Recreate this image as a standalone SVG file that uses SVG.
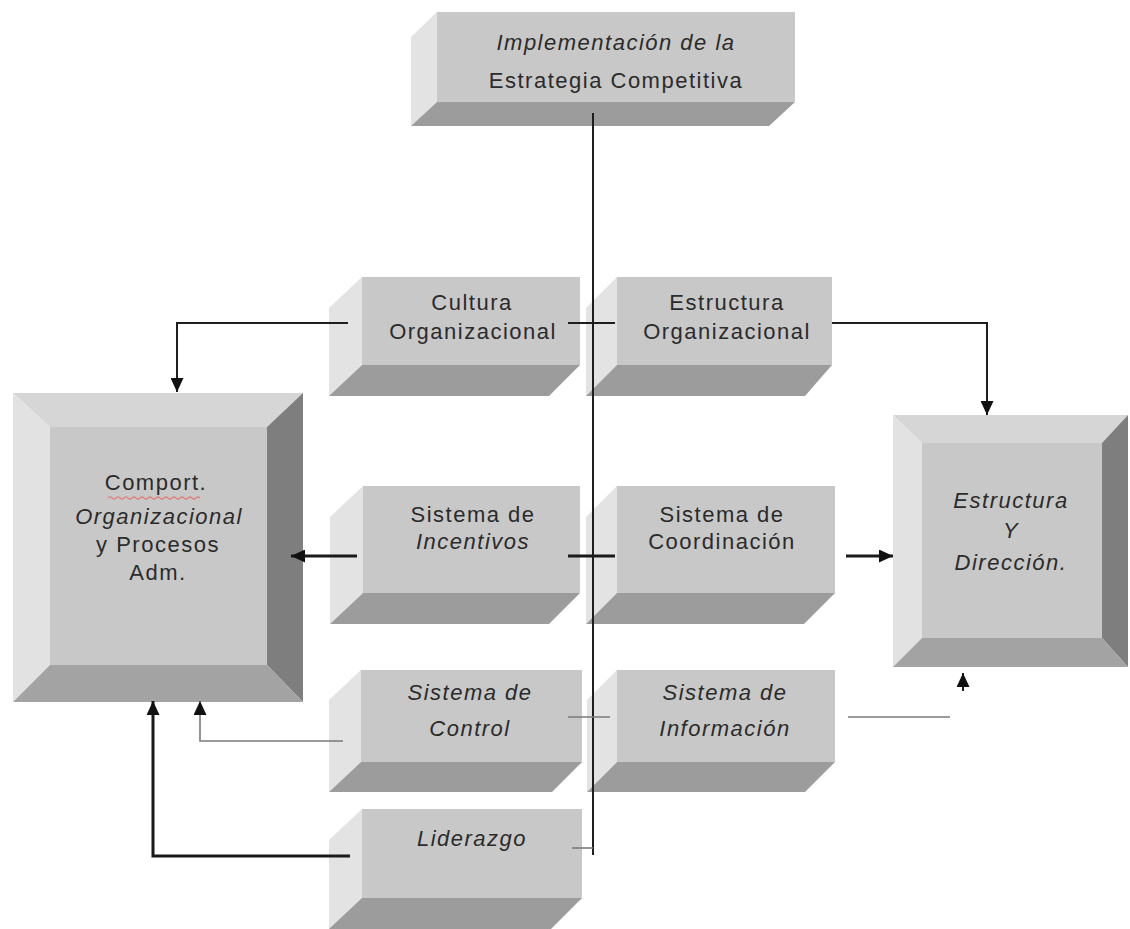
<svg xmlns="http://www.w3.org/2000/svg" width="1130" height="929" viewBox="0 0 1130 929">
  <style>
    .front { fill: #c8c8c8; }
    .side { fill: #e3e3e3; }
    .under { fill: #9c9c9c; }
    .bev-top { fill: #d6d6d6; }
    .bev-left { fill: #e2e2e2; }
    .bev-right { fill: #7e7e7e; }
    .bev-bottom { fill: #a3a3a3; }
    .label { font-family: "Liberation Sans", Arial, sans-serif; font-size: 22px; fill: #2b2b2b; text-anchor: middle; letter-spacing: 1.5px; }
    .it { font-style: italic; }
    .dark { fill: none; stroke: #1e1e1e; stroke-width: 2; }
    .heavy { fill: none; stroke: #1a1a1a; stroke-width: 3; }
    .grey { fill: none; stroke: #7a7a7a; stroke-width: 1.6; }
  </style>
  <defs>
    <marker id="arrow" markerUnits="userSpaceOnUse" markerWidth="14" markerHeight="13" refX="14" refY="6.5" orient="auto">
      <path d="M0,0 L14,6.5 L0,13 z" fill="#111"/>
    </marker>
  </defs>
  <rect width="1130" height="929" fill="#ffffff"/>

  <!-- top block -->
  <g id="implementacion">
    <polygon class="side" points="437,12 411,37 411,126 437,102"/>
    <polygon class="under" points="437,102 795,102 769,126 411,126"/>
    <rect class="front" x="437" y="12" width="358" height="90"/>
    <text class="label it" x="616" y="50">Implementación de la</text>
    <text class="label" x="616" y="88">Estrategia Competitiva</text>
  </g>

  <!-- left large bevelled block -->
  <g id="comportamiento">
    <polygon class="bev-top" points="13,393 303,393 267,427 50,427"/>
    <polygon class="bev-left" points="13,393 50,427 50,665 13,702"/>
    <polygon class="bev-right" points="303,393 303,702 267,665 267,427"/>
    <polygon class="bev-bottom" points="13,702 50,665 267,665 303,702"/>
    <rect class="front" x="50" y="427" width="217" height="238"/>
    <text class="label" x="156" y="490">Comport.</text>
    <path d="M108,498 q2,-2 4,0 t4,0 t4,0 t4,0 t4,0 t4,0 t4,0 t4,0 t4,0 t4,0 t4,0 t4,0 t4,0 t4,0 t4,0 t4,0 t4,0 t4,0 t4,0 t4,0 t4,0 t4,0 t4,0" fill="none" stroke="#e07070" stroke-width="1.2" opacity="0.8"/>
    <text class="label it" x="159" y="524">Organizacional</text>
    <text class="label" x="158" y="552">y Procesos</text>
    <text class="label" x="158" y="580">Adm.</text>
  </g>

  <!-- right large bevelled block -->
  <g id="estructura-direccion">
    <polygon class="bev-top" points="893,415 1128,415 1102,443 922,443"/>
    <polygon class="bev-left" points="893,415 922,443 922,638 893,667"/>
    <polygon class="bev-right" points="1128,415 1128,667 1102,638 1102,443"/>
    <polygon class="bev-bottom" points="893,667 922,638 1102,638 1128,667"/>
    <rect class="front" x="922" y="443" width="180" height="195"/>
    <text class="label it" x="1011" y="508">Estructura</text>
    <text class="label it" x="1011" y="538">Y</text>
    <text class="label it" x="1011" y="570">Dirección.</text>
  </g>

  <g id="cultura">
    <polygon class="side" points="362,277 329,308 329,396 362,365"/>
    <polygon class="under" points="362,365 580,365 549,396 329,396"/>
    <rect class="front" x="362" y="277" width="218" height="88"/>
    <text class="label" x="472" y="310">Cultura</text>
    <text class="label" x="473" y="339">Organizacional</text>
  </g>

  <g id="estructura-organizacional">
    <polygon class="side" points="617,277 586,308 586,396 617,365"/>
    <polygon class="under" points="617,365 832,365 805,396 586,396"/>
    <rect class="front" x="617" y="277" width="215" height="88"/>
    <text class="label" x="727" y="310">Estructura</text>
    <text class="label" x="727" y="339">Organizacional</text>
  </g>

  <g id="incentivos">
    <polygon class="side" points="363,486 330,517 330,624 363,593"/>
    <polygon class="under" points="363,593 580,593 549,624 330,624"/>
    <rect class="front" x="363" y="486" width="217" height="107"/>
    <text class="label" x="473" y="522">Sistema de</text>
    <text class="label it" x="473" y="549">Incentivos</text>
  </g>

  <g id="coordinacion">
    <polygon class="side" points="617,486 586,517 586,624 617,593"/>
    <polygon class="under" points="617,593 835,593 804,624 586,624"/>
    <rect class="front" x="617" y="486" width="218" height="107"/>
    <text class="label" x="722" y="522">Sistema de</text>
    <text class="label" x="722" y="549">Coordinación</text>
  </g>

  <g id="control">
    <polygon class="side" points="361,670 329,700 329,792 361,762"/>
    <polygon class="under" points="361,762 582,762 552,792 329,792"/>
    <rect class="front" x="361" y="670" width="221" height="92"/>
    <text class="label it" x="470" y="700">Sistema de</text>
    <text class="label it" x="470" y="736">Control</text>
  </g>

  <g id="informacion">
    <polygon class="side" points="617,670 587,700 587,792 617,762"/>
    <polygon class="under" points="617,762 835,762 805,792 587,792"/>
    <rect class="front" x="617" y="670" width="218" height="92"/>
    <text class="label it" x="725" y="700">Sistema de</text>
    <text class="label it" x="725" y="736">Información</text>
  </g>

  <g id="liderazgo">
    <polygon class="side" points="362,809 329,840 329,929 362,929"/>
    <polygon class="under" points="362,898 582,898 551,929 329,929"/>
    <rect class="front" x="362" y="809" width="220" height="89"/>
    <text class="label it" x="472" y="846">Liderazgo</text>
  </g>

  <g id="connectors">
    <path class="dark" d="M593,113 V855"/>
    <path class="dark" d="M348,323 H177 V392" marker-end="url(#arrow)"/>
    <path class="dark" d="M568,323 H615"/>
    <path class="dark" d="M832,323 H987 V415" stroke-width="1.6" marker-end="url(#arrow)"/>
    <path class="heavy" d="M357,556 H291" marker-end="url(#arrow)"/>
    <path class="heavy" d="M568,556 H615"/>
    <path class="heavy" d="M846,556 H893" marker-end="url(#arrow)"/>
    <path class="grey" d="M343,741 H200 V701" marker-end="url(#arrow)"/>
    <path class="grey" d="M568,717 H610"/>
    <path class="grey" d="M848,717 H950"/>
    <path class="dark" d="M963,691 V673" marker-end="url(#arrow)"/>
    <path class="heavy" d="M350,856 H153 V701" stroke-width="2.5" marker-end="url(#arrow)"/>
    <path class="grey" d="M572,848 H593"/>
  </g>
</svg>
